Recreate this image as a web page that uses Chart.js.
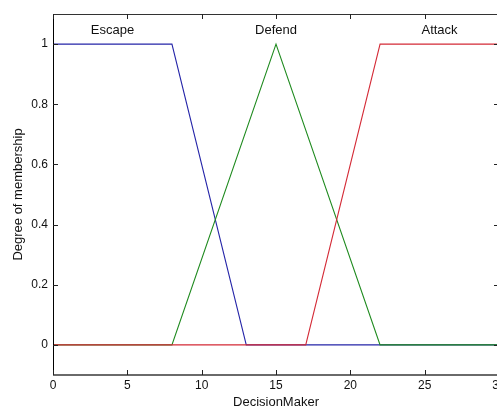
<!DOCTYPE html>
<html>
<head>
<meta charset="utf-8">
<script src="https://cdn.jsdelivr.net/npm/chart.js@4"></script>
<style>
  html, body { margin: 0; padding: 0; background: #fff; overflow: hidden; }
  #wrap { width: 497px; height: 409px; overflow: hidden; }
  canvas { display: block; }
</style>
</head>
<body>
<div id="wrap"><canvas id="c" width="530" height="409"></canvas></div>
<script>
// ---- data ----
const mfNames = ['Escape', 'Defend', 'Attack'];
const mfLabelX = [4, 15, 26];
const mfLabelY = 1.047;

const escapeX = [0, 8, 13, 30];
const escapeY = [1, 1, 0, 0];
const defendX = [0, 8, 15, 22, 30];
const defendY = [0, 0, 1, 0, 0];
const attackX = [0, 17, 22, 30];
const attackY = [0, 0, 1, 1];

const xTicks = [0, 5, 10, 15, 20, 25, 30];
const yTicks = [0, 0.2, 0.4, 0.6, 0.8, 1];
const yTickLabels = ['0', '0.2', '0.4', '0.6', '0.8', '1'];

const xTitle = 'DecisionMaker';
const yTitle = 'Degree of membership';

const FONT = '"Liberation Sans", Arial, Helvetica, sans-serif';

function pts(xs, ys) { return xs.map((x, i) => ({ x: x, y: ys[i] })); }

const framePlugin = {
  id: 'frame',
  afterDatasetsDraw(chart) {
    const { ctx, chartArea: a, scales: { x, y } } = chart;
    ctx.save();
    // frame
    ctx.lineCap = 'butt';
    ctx.strokeStyle = '#333';
    ctx.lineWidth = 1;
    ctx.beginPath(); ctx.moveTo(a.left, a.top + 0.5); ctx.lineTo(a.right, a.top + 0.5); ctx.stroke();
    ctx.strokeStyle = '#000';
    ctx.beginPath(); ctx.moveTo(a.left + 0.5, a.top); ctx.lineTo(a.left + 0.5, a.bottom); ctx.stroke();
    ctx.beginPath(); ctx.moveTo(a.right - 0.5, a.top); ctx.lineTo(a.right - 0.5, a.bottom); ctx.stroke();
    ctx.strokeStyle = '#6a6a6a';
    ctx.lineWidth = 2;
    ctx.beginPath(); ctx.moveTo(a.left, a.bottom); ctx.lineTo(a.right, a.bottom); ctx.stroke();
    // inward ticks
    ctx.strokeStyle = '#222';
    ctx.lineWidth = 1;
    const tl = 5;
    xTicks.forEach(v => {
      const px = Math.round(x.getPixelForValue(v)) + 0.5;
      ctx.beginPath(); ctx.moveTo(px, a.bottom); ctx.lineTo(px, a.bottom - tl); ctx.stroke();
      ctx.beginPath(); ctx.moveTo(px, a.top); ctx.lineTo(px, a.top + tl); ctx.stroke();
    });
    yTicks.forEach(v => {
      const py = Math.round(y.getPixelForValue(v)) + 0.5;
      ctx.beginPath(); ctx.moveTo(a.left, py); ctx.lineTo(a.left + tl, py); ctx.stroke();
      ctx.beginPath(); ctx.moveTo(a.right, py); ctx.lineTo(a.right - tl, py); ctx.stroke();
    });
    // membership function names
    ctx.fillStyle = '#111';
    ctx.font = '13px ' + FONT;
    ctx.textAlign = 'center';
    ctx.textBaseline = 'middle';
    mfNames.forEach((n, i) => {
      ctx.fillText(n, x.getPixelForValue(mfLabelX[i]), y.getPixelForValue(mfLabelY));
    });
    ctx.restore();
  }
};

new Chart(document.getElementById('c'), {
  type: 'line',
  data: {
    datasets: [
      { label: 'Escape', data: pts(escapeX, escapeY), borderColor: '#2424a8', order: 2 },
      { label: 'Defend', data: pts(defendX, defendY), borderColor: '#1e8a1e', order: 1 },
      { label: 'Attack', data: pts(attackX, attackY), borderColor: '#d42a36', order: 0 }
    ]
  },
  options: {
    responsive: false,
    animation: false,
    devicePixelRatio: 1,
    layout: { padding: { left: 0, right: 31, top: 14, bottom: 0 } },
    elements: {
      line: { borderWidth: 1.1, tension: 0, fill: false },
      point: { radius: 0, hoverRadius: 0 }
    },
    plugins: { legend: { display: false }, tooltip: { enabled: false } },
    scales: {
      x: {
        type: 'linear',
        min: 0, max: 30,
        grid: { display: false, drawTicks: false },
        border: { display: false },
        afterBuildTicks: s => { s.ticks = xTicks.map(v => ({ value: v })); },
        afterFit: s => { s.height = 34; },
        ticks: { color: '#111', font: { family: FONT, size: 12 }, padding: 3, maxRotation: 0, autoSkip: false },
        title: { display: true, text: xTitle, color: '#111', font: { family: FONT, size: 13, lineHeight: 1 }, padding: { top: 0, bottom: 0 } }
      },
      y: {
        type: 'linear',
        min: -0.1, max: 1.1,
        grid: { display: false, drawTicks: false },
        border: { display: false },
        afterBuildTicks: s => { s.ticks = yTicks.map(v => ({ value: v })); },
        afterFit: s => { s.width = 53; },
        ticks: {
          color: '#111', font: { family: FONT, size: 12 }, padding: 5, autoSkip: false,
          callback: (v) => { const i = yTicks.indexOf(v); return i >= 0 ? yTickLabels[i] : ''; }
        },
        title: { display: true, text: yTitle, color: '#111', font: { family: FONT, size: 13, lineHeight: 1 }, padding: { top: 11.5, bottom: 0 } }
      }
    }
  },
  plugins: [framePlugin]
});
</script>
</body>
</html>
